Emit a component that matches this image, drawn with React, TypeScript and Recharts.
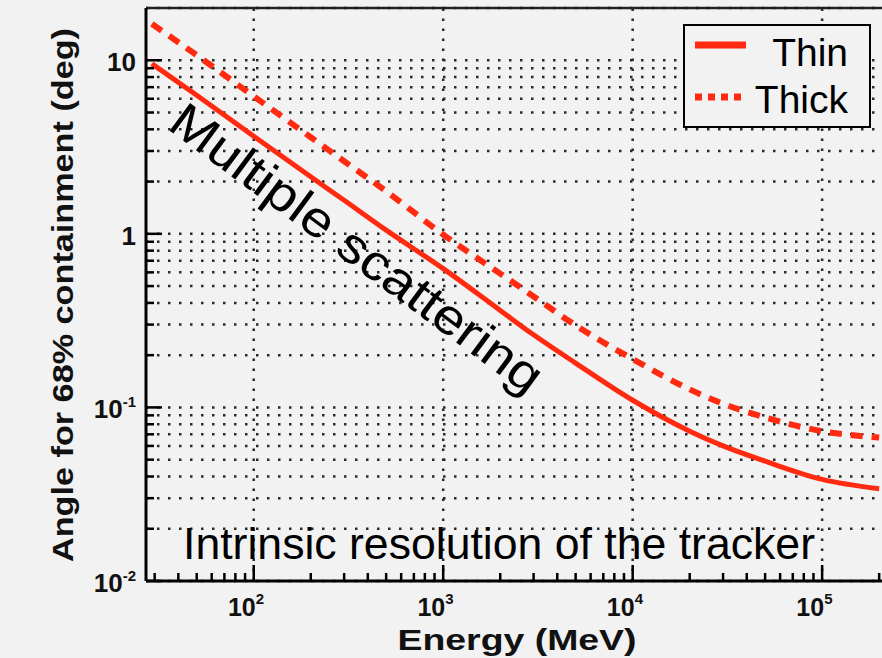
import React from "react";
import {
  LineChart,
  Line,
  XAxis,
  YAxis,
  CartesianGrid,
  ReferenceLine,
  Legend,
} from "recharts";

// values (MeV, deg)
const energies = [29, 50, 100, 200, 300, 500, 1000, 2000, 3000, 5000, 10000, 20000, 30000, 50000, 100000, 200000];
const thinAngles = [9.55, 6.28, 3.65, 2.13, 1.56, 1.05, 0.63, 0.362, 0.262, 0.18, 0.11, 0.073, 0.06, 0.049, 0.0385, 0.034];
const thickAngles = [16.2, 10.7, 6.2, 3.6, 2.62, 1.76, 0.99, 0.59, 0.436, 0.297, 0.19, 0.127, 0.105, 0.0875, 0.073, 0.067];

const xDecades = [100, 1000, 10000, 100000];
const xDecadeExps = ["2", "3", "4", "5"];
const xTicks = [
  30, 40, 50, 60, 70, 80, 90,
  100, 200, 300, 400, 500, 600, 700, 800, 900,
  1000, 2000, 3000, 4000, 5000, 6000, 7000, 8000, 9000,
  10000, 20000, 30000, 40000, 50000, 60000, 70000, 80000, 90000,
  100000, 200000,
];

const yDecades = [0.01, 0.1, 1, 10];
const yDecadeBases = ["10", "10", "1", "10"];
const yDecadeExps = ["-2", "-1", "", ""];
const yTicks = [
  0.01, 0.02, 0.03, 0.04, 0.05, 0.06, 0.07, 0.08, 0.09,
  0.1, 0.2, 0.3, 0.4, 0.5, 0.6, 0.7, 0.8, 0.9,
  1, 2, 3, 4, 5, 6, 7, 8, 9,
  10,
];

const seriesNames = ["Thin", "Thick"];
const xTitle = "Energy (MeV)";
const yTitle = "Angle for 68% containment (deg)";
const noteScattering = "Multiple scattering";
const noteIntrinsic = "Intrinsic resolution of the tracker";

const data = energies.map((e, i) => ({
  energy: e,
  thin: thinAngles[i],
  thick: thickAngles[i],
}));

const FONT = "'Liberation Sans', Arial, Helvetica, sans-serif";
const RED = "#ff2a10";
const GRID = "#2a2a2a";

const XTick = (props: any) => {
  const { x, y, payload } = props;
  const idx = xDecades.indexOf(payload.value);
  const major = idx >= 0;
  return (
    <g>
      <line x1={x} x2={x} y1={y} y2={y - (major ? 16 : 8)} stroke="#000" strokeWidth={2.5} />
      {major && (
        <g fontFamily={FONT} fontWeight="bold" fill="#111">
          <text x={x + 2} y={y + 35} textAnchor="end" fontSize={25}>10</text>
          <text x={x + 2} y={y + 23} textAnchor="start" fontSize={15}>{xDecadeExps[idx]}</text>
        </g>
      )}
    </g>
  );
};

const YTick = (props: any) => {
  const { x, y, payload } = props;
  const idx = yDecades.indexOf(payload.value);
  const major = idx >= 0;
  return (
    <g>
      <line x1={x} x2={x + (major ? 16 : 8)} y1={y} y2={y} stroke="#000" strokeWidth={2.5} />
      {major && (
        <text x={x - 10} y={y + 11} textAnchor="end" fontFamily={FONT} fontWeight="bold" fill="#111" fontSize={26}>
          <tspan>{yDecadeBases[idx]}</tspan>
          {yDecadeExps[idx] && (
            <tspan dy={-11} fontSize={15}>{yDecadeExps[idx]}</tspan>
          )}
        </text>
      )}
    </g>
  );
};

const renderLegend = () => (
  <div
    style={{
      width: 184,
      height: 100,
      border: "2px solid #000",
      background: "#f2f2f2",
      position: "relative",
      fontFamily: FONT,
      fontSize: 39,
      color: "#000",
    }}
  >
    <svg width={184} height={100} style={{ position: "absolute", left: 0, top: 0 }}>
      <line x1={10} x2={61} y1={19} y2={19} stroke={RED} strokeWidth={7} />
      <line x1={10} x2={61} y1={71} y2={71} stroke={RED} strokeWidth={7} strokeDasharray="7 6" />
      <text x={163} y={40} textAnchor="end" fontFamily={FONT} fontSize={39}>{seriesNames[0]}</text>
      <text x={163} y={87} textAnchor="end" fontFamily={FONT} fontSize={39}>{seriesNames[1]}</text>
    </svg>
  </div>
);

export default function App() {
  return (
    <div style={{ position: "relative", width: 882, height: 658, background: "#f2f2f2", overflow: "hidden" }}>
      <style>{`body{margin:0}`}</style>
      <LineChart
        width={882}
        height={658}
        data={data}
        margin={{ top: 8, right: 0, bottom: 0, left: 0 }}
      >
        <CartesianGrid
          vertical={false}
          stroke={GRID}
          strokeWidth={2.5}
          strokeDasharray="2.5 8.5"
        />
        {xDecades.map((d) => (
          <ReferenceLine key={d} x={d} stroke={GRID} strokeWidth={2.5} strokeDasharray="2.5 7.5" />
        ))}
        <ReferenceLine y={20} stroke="#222" strokeWidth={2.5} />
        <XAxis
          dataKey="energy"
          type="number"
          scale="log"
          domain={[27, 207000]}
          allowDataOverflow
          ticks={xTicks}
          interval={0}
          height={77}
          tickSize={0}
          tickMargin={0}
          tickLine={false}
          tick={<XTick />}
          axisLine={{ stroke: "#000", strokeWidth: 3 }}
        />
        <YAxis
          type="number"
          scale="log"
          domain={[0.01, 20]}
          allowDataOverflow
          ticks={yTicks}
          interval={0}
          width={146}
          tickSize={0}
          tickMargin={0}
          tickLine={false}
          tick={<YTick />}
          axisLine={{ stroke: "#000", strokeWidth: 3 }}
        />
        <Legend
          layout="horizontal"
          verticalAlign="middle"
          align="center"
          content={renderLegend}
          wrapperStyle={{ position: "absolute", left: 683, top: 24, width: 188, height: 104 }}
        />
        <Line
          type="monotone"
          dataKey="thin"
          name={seriesNames[0]}
          stroke={RED}
          strokeWidth={5}
          dot={false}
          isAnimationActive={false}
        />
        <Line
          type="monotone"
          dataKey="thick"
          name={seriesNames[1]}
          stroke={RED}
          strokeWidth={6}
          strokeDasharray="12 9"
          dot={false}
          isAnimationActive={false}
        />
      </LineChart>
      <svg
        width={882}
        height={658}
        style={{ position: "absolute", left: 0, top: 0, pointerEvents: "none" }}
        fontFamily={FONT}
      >
        <text
          transform="translate(73,295) rotate(-90)"
          textAnchor="middle"
          fontSize={30}
          fontWeight="bold"
          fill="#111"
          textLength={534}
          lengthAdjust="spacingAndGlyphs"
        >
          {yTitle}
        </text>
        <text
          x={517}
          y={650}
          textAnchor="middle"
          fontSize={29}
          fontWeight="bold"
          fill="#111"
          textLength={239}
          lengthAdjust="spacingAndGlyphs"
        >
          {xTitle}
        </text>
        <text
          transform="translate(166,128) rotate(36.5)"
          fontSize={50}
          fill="#000"
          textLength={450}
          lengthAdjust="spacingAndGlyphs"
        >
          {noteScattering}
        </text>
        <text
          x={183}
          y={559}
          fontSize={45}
          fill="#000"
          textLength={632}
          lengthAdjust="spacingAndGlyphs"
        >
          {noteIntrinsic}
        </text>
      </svg>
    </div>
  );
}
